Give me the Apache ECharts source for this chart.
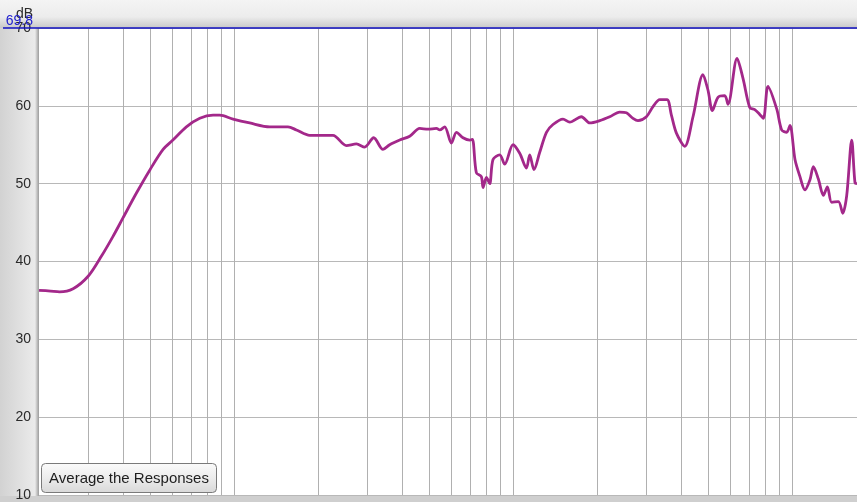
<!DOCTYPE html>
<html><head><meta charset="utf-8">
<script src="https://cdn.jsdelivr.net/npm/echarts@6/dist/echarts.min.js"></script>
<style>html,body{margin:0;padding:0;background:#e4e4e4;overflow:hidden}#c{width:857px;height:502px}</style>
</head><body><div id="c"></div>
<script>
// Frequency (Hz) and level (dB)
const freqHz = [2.0,2.2,2.37,2.65,3.0,3.35,3.68,4.0,4.47,5.0,5.57,6.04,6.75,7.54,8.41,8.89,9.92,11.38,13.43,15.61,16.74,18.68,22.63,25.29,27.46,29.41,31.67,34.2,36.14,39.26,42.63,46.3,49.6,53.14,54.6,56.9,60.15,62.7,66.2,69.96,71.5,73.9,77.0,78.1,80.3,82.5,84.8,89.6,93.4,100,105.7,111.7,114.8,118.9,124.6,131.8,139.1,151.1,159.7,175.9,188.3,204.6,222.2,241.2,255,269.2,280.5,300.7,317.6,335.7,356.5,369.6,385.2,412.5,441.8,479.7,500,518.5,543,574,589.8,635.5,667.7,705.6,735.3,766.3,789.9,820.4,881.5,918.6,957.2,983.5,1025,1068,1113,1160,1193,1243,1296,1339,1388,1467,1520,1571,1637,1682,1710];
const levelDb = [36.3,36.2,36.1,36.5,38.1,40.7,43.2,45.6,48.8,51.8,54.4,55.6,57.3,58.4,58.8,58.8,58.3,57.8,57.3,57.3,56.9,56.2,56.2,54.9,55.1,54.7,55.9,54.4,55.0,55.6,56.1,57.1,57.0,57.1,56.9,57.3,55.2,56.6,55.9,55.6,55.7,51.4,50.9,49.5,50.8,50.0,53.1,53.7,52.5,55.0,53.9,52.0,53.7,51.8,54.0,56.6,57.6,58.3,57.9,58.6,57.8,58.1,58.6,59.2,59.1,58.4,58.1,58.6,59.9,60.8,60.8,58.8,56.5,54.8,58.6,64.0,62.0,59.4,61.1,61.3,60.2,66.1,63.5,59.8,59.5,58.9,58.4,62.5,59.6,56.9,56.6,57.5,53.1,50.9,49.2,50.5,52.2,50.6,48.5,49.6,47.6,47.7,46.2,48.5,55.6,50.1,50.0];
const gridFreqs = [3,4,5,6,7,8,9,10,20,30,40,50,60,70,80,90,100,200,300,400,500,600,700,800,900,1000];
const yMin = 10, yMax = 70, yStep = 10;
const topMarker = 69.8;
const buttonText = 'Average the Responses';

const chart = echarts.init(document.getElementById('c'));
const G = {left: 39, top: 28, right: 0, bottom: 6};
const option = {
  animation: false,
  backgroundColor: 'transparent',
  grid: {left: G.left, top: G.top, right: G.right, bottom: G.bottom, show: true, backgroundColor: '#ffffff', borderWidth: 0},
  xAxis: {type: 'log', logBase: 10, min: 2, max: 1710, axisLine: {show: false}, axisTick: {show: false}, axisLabel: {show: false}, splitLine: {show: false}, minorSplitLine: {show: false}},
  yAxis: {type: 'value', min: yMin, max: yMax, interval: yStep,
    name: 'dB', nameLocation: 'end', nameGap: 6,
    nameTextStyle: {fontFamily: 'Liberation Sans', fontSize: 14, color: '#2a2a2a', align: 'right', padding: [0, 6, 0, 0]},
    axisLine: {show: false}, axisTick: {show: false},
    axisLabel: {fontFamily: 'Liberation Sans', fontSize: 14, color: '#2a2a2a', margin: 8},
    splitLine: {lineStyle: {color: '#b8b8b8', width: 1}}},
  series: [{
    type: 'line', data: freqHz.map((f, i) => [f, levelDb[i]]), showSymbol: false, symbol: 'none',
    smooth: 0.3,
    lineStyle: {color: '#a3288a', width: 2.8}, z: 5,
    markLine: {silent: true, symbol: 'none', label: {show: false}, animation: false,
      data: gridFreqs.map(f => ({xAxis: f, lineStyle: {color: '#b0b0b0', width: 1, type: 'solid'}}))
        .concat([{yAxis: yMax, lineStyle: {color: '#1010c0', width: 1.5, type: 'solid'}}])}
  }]
};
chart.setOption(option);
const yTop = chart.convertToPixel({yAxisIndex: 0}, yMax);
const yMark = chart.convertToPixel({yAxisIndex: 0}, topMarker);
chart.setOption({graphic: [
  {type: 'rect', z: -20, shape: {x: 0, y: 0, width: 857, height: 502}, style: {fill: new echarts.graphic.LinearGradient(0, 0, 1, 0, [{offset: 0, color: '#d2d2d2'}, {offset: 0.04, color: '#eaeaea'}, {offset: 1, color: '#e6e6e6'}])}},
  {type: 'rect', z: -19, shape: {x: 0, y: 0, width: 857, height: yTop}, style: {fill: new echarts.graphic.LinearGradient(0, 0, 0, 1, [{offset: 0, color: '#f4f4f4'}, {offset: 0.6, color: '#ececec'}, {offset: 1, color: '#c8c8c8'}])}},
  {type: 'rect', z: -18, shape: {x: G.left - 4, y: yTop, width: 4, height: 502 - yTop}, style: {fill: new echarts.graphic.LinearGradient(0, 0, 1, 0, [{offset: 0, color: 'rgba(150,150,150,0)'}, {offset: 1, color: '#9c9c9c'}])}},
  {type: 'rect', z: -18, shape: {x: 0, y: 496, width: 857, height: 6}, style: {fill: '#cfcfcf'}},
  {type: 'line', z: 50, shape: {x1: 3, y1: yTop, x2: G.left, y2: yTop}, style: {stroke: '#1010c0', lineWidth: 1.5}},
  {type: 'text', z: 51, x: G.left - 6, y: yMark - 1, style: {text: String(topMarker), fill: '#2020d0', font: '14px "Liberation Sans"', textAlign: 'right', textVerticalAlign: 'bottom'}},
  {type: 'rect', z: 60, shape: {x: 41.5, y: 463.5, width: 175, height: 29, r: 4}, style: {fill: new echarts.graphic.LinearGradient(0, 0, 0, 1, [{offset: 0, color: '#fbfbfb'}, {offset: 0.5, color: '#ececec'}, {offset: 1, color: '#d8d8d8'}]), stroke: '#7a7a7a', lineWidth: 1}},
  {type: 'text', z: 61, x: 129, y: 479, style: {text: buttonText, fill: '#1e1e1e', font: '15px "Liberation Sans"', textAlign: 'center', textVerticalAlign: 'middle'}}
]});
</script>
</body></html>
